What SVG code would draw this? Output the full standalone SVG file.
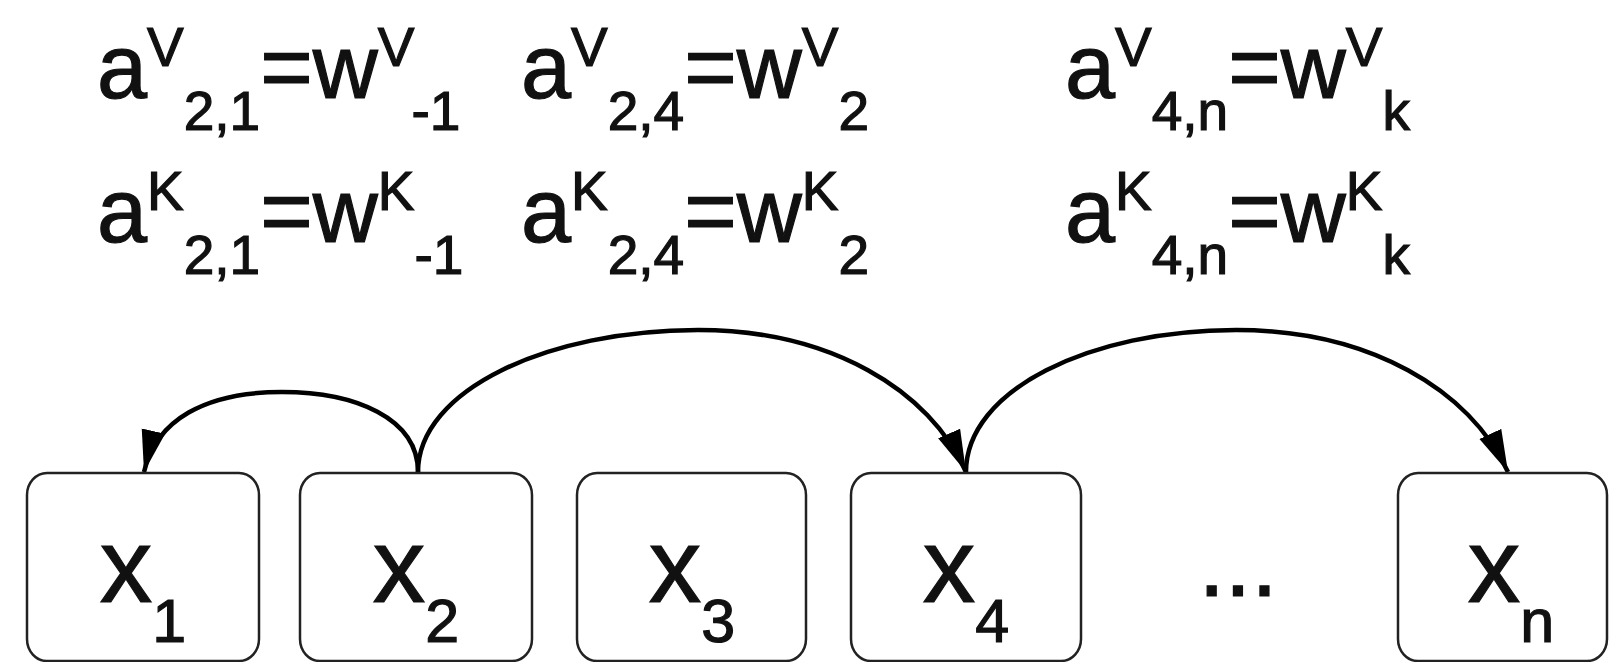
<svg xmlns="http://www.w3.org/2000/svg" width="1609" height="662" viewBox="0 0 1609 662">
  <style>
    text { font-family: "Liberation Sans", Arial, sans-serif; fill: #111; stroke: #111; stroke-width: 1.2; }
    .eq { font-size: 90px; }
    .lbl { font-size: 105px; text-anchor: middle; }
    .s { font-size: 55px; }
    .ls { font-size: 61px; }
    .box { fill: #fff; stroke: #222; stroke-width: 2.5; }
    .edge { fill: none; stroke: #000; stroke-width: 4.5; }
  </style>
  <defs>
    <marker id="arrow" markerUnits="userSpaceOnUse" markerWidth="44" markerHeight="26" viewBox="0 0 44 26" refX="42" refY="13" orient="auto">
      <path d="M0,1 L42,13 L0,25 Z" fill="#000"/>
    </marker>
  </defs>
  <rect width="1609" height="662" fill="#fff"/>

  <!-- weight equations -->
  <g id="equations">
    <text class="eq" x="97" y="98">a<tspan class="s" dy="-32">V</tspan><tspan class="s" dy="64">2,1</tspan><tspan dy="-32">=w</tspan><tspan class="s" dy="-32">V</tspan><tspan class="s" dy="64">-1</tspan></text>
    <text class="eq" x="521" y="98">a<tspan class="s" dy="-32">V</tspan><tspan class="s" dy="64">2,4</tspan><tspan dy="-32">=w</tspan><tspan class="s" dy="-32">V</tspan><tspan class="s" dy="64">2</tspan></text>
    <text class="eq" x="1065" y="98">a<tspan class="s" dy="-32">V</tspan><tspan class="s" dy="64">4,n</tspan><tspan dy="-32">=w</tspan><tspan class="s" dy="-32">V</tspan><tspan class="s" dy="64">k</tspan></text>
    <text class="eq" x="97" y="242">a<tspan class="s" dy="-32">K</tspan><tspan class="s" dy="64">2,1</tspan><tspan dy="-32">=w</tspan><tspan class="s" dy="-32">K</tspan><tspan class="s" dy="64">-1</tspan></text>
    <text class="eq" x="521" y="242">a<tspan class="s" dy="-32">K</tspan><tspan class="s" dy="64">2,4</tspan><tspan dy="-32">=w</tspan><tspan class="s" dy="-32">K</tspan><tspan class="s" dy="64">2</tspan></text>
    <text class="eq" x="1065" y="242">a<tspan class="s" dy="-32">K</tspan><tspan class="s" dy="64">4,n</tspan><tspan dy="-32">=w</tspan><tspan class="s" dy="-32">K</tspan><tspan class="s" dy="64">k</tspan></text>
  </g>

  <!-- connectors -->
  <g id="connectors">
    <path class="edge" d="M418,472 C418,418 355,392 282,392 C205,392 156,420 144,472" marker-end="url(#arrow)"/>
    <path class="edge" d="M418,472 C418,390 548,330 698,330 C830,330 930,390 966,472" marker-end="url(#arrow)"/>
    <path class="edge" d="M966,472 C966,390 1090,330 1236,330 C1370,330 1470,390 1508,472" marker-end="url(#arrow)"/>
  </g>

  <!-- token nodes -->
  <g id="x1">
    <rect class="box" x="27" y="473" width="232" height="188" rx="20" ry="22"/>
    <text class="lbl" x="143" y="602">x<tspan class="ls" dy="40">1</tspan></text>
  </g>
  <g id="x2">
    <rect class="box" x="300" y="473" width="232" height="188" rx="20" ry="22"/>
    <text class="lbl" x="416" y="602">x<tspan class="ls" dy="40">2</tspan></text>
  </g>
  <g id="x3">
    <rect class="box" x="577" y="473" width="229" height="188" rx="20" ry="22"/>
    <text class="lbl" x="692" y="602">x<tspan class="ls" dy="40">3</tspan></text>
  </g>
  <g id="x4">
    <rect class="box" x="851" y="473" width="230" height="188" rx="20" ry="22"/>
    <text class="lbl" x="966" y="602">x<tspan class="ls" dy="40">4</tspan></text>
  </g>
  <g id="ellipsis">
    <text x="1238" y="596" style="font-size:95px;text-anchor:middle">...</text>
  </g>
  <g id="xn">
    <rect class="box" x="1398" y="473" width="209" height="188" rx="20" ry="22"/>
    <text class="lbl" x="1511" y="602">x<tspan class="ls" dy="40">n</tspan></text>
  </g>
</svg>
